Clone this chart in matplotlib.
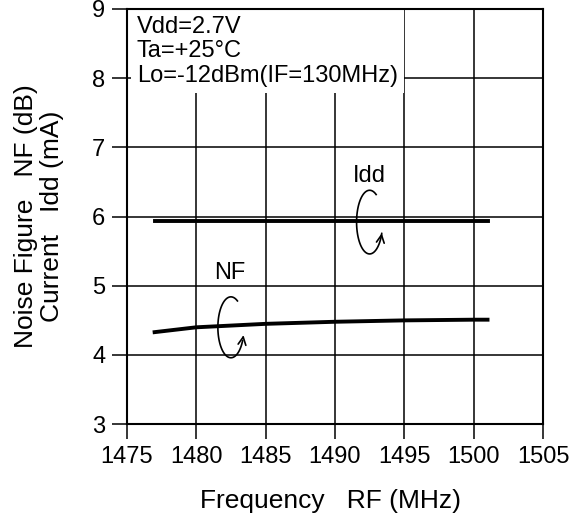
import numpy as np
import matplotlib
matplotlib.use("Agg")
import matplotlib.pyplot as plt

plt.rcParams["font.family"] = ["Liberation Sans", "DejaVu Sans"]

# data
freq_idd = [1477, 1501]
idd = [5.93, 5.93]

freq_nf = [1477, 1480, 1485, 1490, 1495, 1500, 1501]
nf = [4.33, 4.40, 4.45, 4.48, 4.50, 4.51, 4.51]

x_ticks = [1475, 1480, 1485, 1490, 1495, 1500, 1505]
y_ticks = [3, 4, 5, 6, 7, 8, 9]

conditions = "Vdd=2.7V\nTa=+25°C\nLo=-12dBm(IF=130MHz)"

fs = 17
fs_label = 19

fig = plt.figure(figsize=(5.82, 5.25), dpi=100)
ax = fig.add_axes([0.218, 0.192, 0.715, 0.791])

ax.plot(freq_idd, idd, color="black", lw=2.8, zorder=3)
ax.plot(freq_nf, nf, color="black", lw=2.8, zorder=3)

ax.set_xlim(1475, 1505)
ax.set_ylim(3, 9)
ax.set_xticks(x_ticks)
ax.set_yticks(y_ticks)
ax.grid(True, color="black", lw=1.1)
ax.tick_params(direction="out", length=10.5, width=1.1, labelsize=fs, pad=5)
for s in ax.spines.values():
    s.set_linewidth(1.5)

ax.set_xlabel("Frequency   RF (MHz)", fontsize=fs_label)
ax.xaxis.set_label_coords(0.49, -0.155)
ax.set_ylabel("Noise Figure   NF (dB)\nCurrent   Idd (mA)", fontsize=fs_label,
              linespacing=1.15)
ax.yaxis.set_label_coords(-0.15, 0.5)

# condition block: above the grid, below the spines
ax.text(1475.72, 8.90, conditions, fontsize=fs, va="top", ha="left",
        linespacing=1.14, zorder=2,
        bbox=dict(facecolor="white", edgecolor="none",
                  boxstyle="square,pad=0.25"))


def curl(cx, cy, rx, ry):
    t = np.radians(np.linspace(60, 345, 80))
    xs = cx + rx * np.cos(t)
    ys = cy + ry * np.sin(t)
    ax.plot(xs[:-3], ys[:-3], color="black", lw=1.2, zorder=4)
    ax.annotate("", xy=(xs[-1], ys[-1]), xytext=(xs[-4], ys[-4]),
                arrowprops=dict(arrowstyle="->", color="black", lw=1.2,
                                mutation_scale=14), zorder=4)


curl(1492.5, 5.92, 0.94, 0.46)
ax.text(1492.5, 6.58, "Idd", fontsize=fs, ha="center", va="center")

curl(1482.5, 4.40, 0.94, 0.44)
ax.text(1482.4, 5.18, "NF", fontsize=fs, ha="center", va="center")

fig.savefig("out.png", dpi=100)
